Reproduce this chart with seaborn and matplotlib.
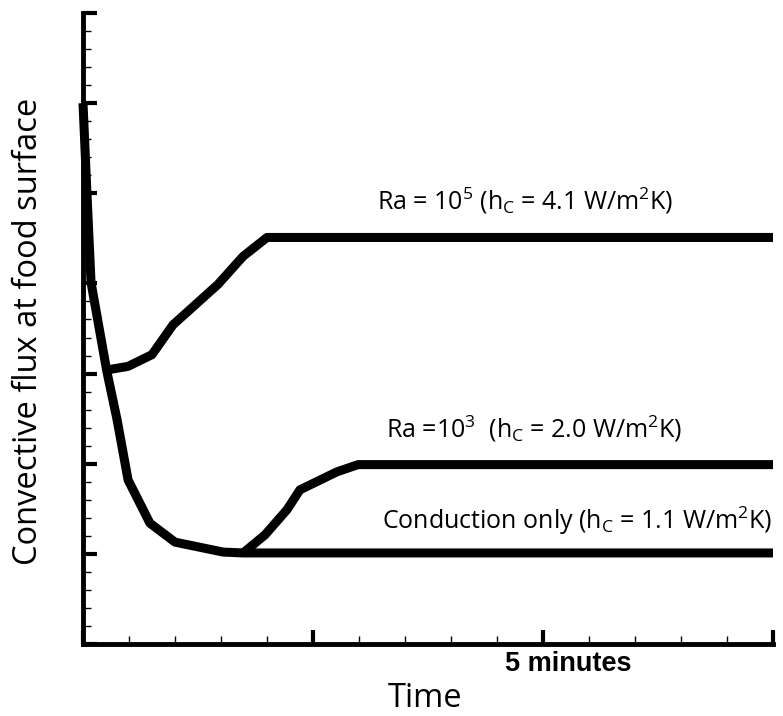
import numpy as np
import pandas as pd
import matplotlib
matplotlib.use("Agg")
import matplotlib.pyplot as plt
from matplotlib.ticker import MultipleLocator, NullFormatter
import seaborn as sns

# ---- data (time in units of 2.5 min, flux in arbitrary units) ----
cond_t = [0.0, 0.017, 0.035, 0.104, 0.148, 0.196, 0.291, 0.40, 0.609, 0.696, 3.0]
cond_q = [6.0, 5.01, 4.01, 3.02, 2.49, 1.82, 1.34, 1.13, 1.02, 1.01, 1.01]

ra3_t = [0.696, 0.791, 0.887, 0.943, 1.104, 1.196, 3.0]
ra3_q = [1.01, 1.21, 1.49, 1.71, 1.91, 1.99, 1.99]

ra5_t = [0.104, 0.196, 0.30, 0.391, 0.587, 0.696, 0.80, 3.0]
ra5_q = [3.04, 3.08, 3.21, 3.54, 3.99, 4.30, 4.51, 4.51]

labels = [r"Ra = 10$^\mathregular{5}$ (h$_\mathregular{C}$ = 4.1 W/m$^\mathregular{2}$K)",
          r"Ra =10$^\mathregular{3}$  (h$_\mathregular{C}$ = 2.0 W/m$^\mathregular{2}$K)",
          r"Conduction only (h$_\mathregular{C}$ = 1.1 W/m$^\mathregular{2}$K)"]
xlabel = "Time"
ylabel = "Convective flux at food surface"
time_tick_label = "5 minutes"

sns.set_style("white")
plt.rcParams["font.family"] = ["Open Sans", "DejaVu Sans"]
plt.rcParams["mathtext.fontset"] = "custom"
plt.rcParams["mathtext.rm"] = "Open Sans"
plt.rcParams["text.color"] = "black"
plt.rcParams["axes.labelcolor"] = "black"

fig = plt.figure(figsize=(7.83, 7.16), dpi=100)
ax = fig.add_axes([83 / 783, 72 / 716, 690 / 783, 631 / 716])

for t, q in [(cond_t, cond_q), (ra3_t, ra3_q), (ra5_t, ra5_q)]:
    df = pd.DataFrame({"t": t, "q": q})
    sns.lineplot(data=df, x="t", y="q", ax=ax, color="black", lw=6.5,
                 sort=False, estimator=None, clip_on=False,
                 solid_joinstyle="round", solid_capstyle="butt")

ax.set_xlim(0, 3)
ax.set_ylim(0, 7)
ax.xaxis.set_major_locator(MultipleLocator(1))
ax.xaxis.set_minor_locator(MultipleLocator(0.2))
ax.yaxis.set_major_locator(MultipleLocator(1))
ax.yaxis.set_minor_locator(MultipleLocator(0.2))
ax.xaxis.set_major_formatter(NullFormatter())
ax.yaxis.set_major_formatter(NullFormatter())
ax.tick_params(which="major", direction="in", length=10, width=3, color="black")
ax.tick_params(which="minor", direction="in", length=6, width=1, color="black")
ax.tick_params(bottom=True, left=True, top=False, right=False, which="both")

for s in ["top", "right"]:
    ax.spines[s].set_visible(False)
for s in ["left", "bottom"]:
    ax.spines[s].set_linewidth(3.5)
    ax.spines[s].set_color("black")

ax.set_xlabel("")
ax.set_ylabel("")

fig.text(425 / 783, 1 - 707 / 716, xlabel, ha="center", va="baseline", fontsize=23.5,
         color="black")
fig.text(29 / 783, 1 - 331 / 716, ylabel, ha="center", va="center", fontsize=23.5,
         rotation=90, color="black")
fig.text(568 / 783, 1 - 671 / 716, time_tick_label, ha="center", va="baseline",
         fontsize=19.5, fontweight="bold", family="Liberation Sans", color="black")

ax.text(525 / 783, 1 - 210 / 716, labels[0], transform=fig.transFigure,
        ha="center", va="baseline", fontsize=18, color="black")
ax.text(534 / 783, 1 - 438 / 716, labels[1], transform=fig.transFigure,
        ha="center", va="baseline", fontsize=18, color="black")
ax.text(577 / 783, 1 - 529 / 716, labels[2], transform=fig.transFigure,
        ha="center", va="baseline", fontsize=18, color="black")

fig.savefig("out.png", dpi=100)
